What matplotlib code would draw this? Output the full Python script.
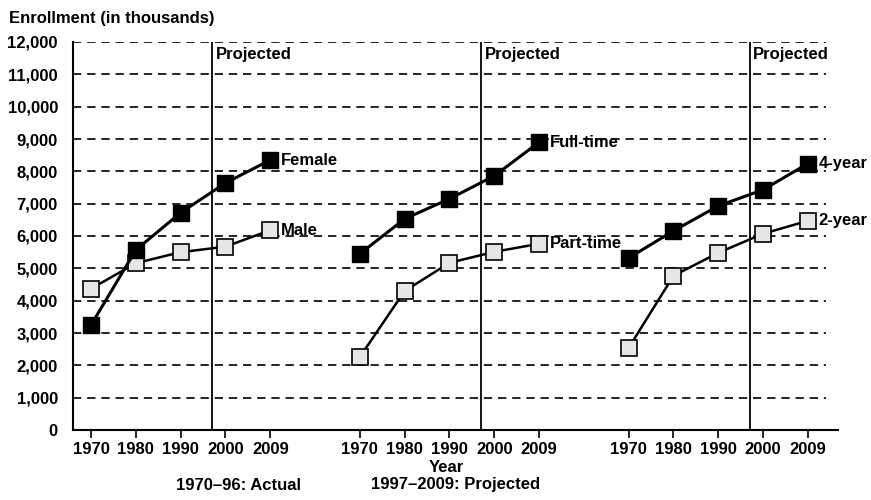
import matplotlib
matplotlib.use("Agg")
import matplotlib.pyplot as plt
import numpy as np

# enrollment data (thousands)
years = ["1970", "1980", "1990", "2000", "2009"]
female = [3250, 5570, 6720, 7640, 8350]
male = [4370, 5160, 5500, 5670, 6180]
full_time = [5450, 6530, 7150, 7860, 8900]
part_time = [2260, 4300, 5170, 5510, 5760]
four_year = [5320, 6160, 6930, 7430, 8240]
two_year = [2540, 4770, 5480, 6070, 6470]

groups = [(female, male, "Female", "Male"),
          (full_time, part_time, "Full-time", "Part-time"),
          (four_year, two_year, "4-year", "2-year")]

plt.rcParams['font.family'] = ['Liberation Sans', 'DejaVu Sans']
fs = 12
fig = plt.figure(figsize=(8.71, 5.0), dpi=100)
ax = fig.add_axes([0.084, 0.14, 0.878, 0.776])

xpos_all = []
for g, (top, bot, top_lab, bot_lab) in enumerate(groups):
    x = np.arange(5) + g * 6
    xpos_all.extend(x)
    ax.plot(x, bot, color='black', lw=1.8, marker='s', ms=12,
            mfc='#e6e6e6', mec='black', mew=1.2, zorder=3)
    ax.plot(x, top, color='black', lw=2.2, marker='s', ms=12,
            mfc='black', mec='black', zorder=4)
    ax.text(x[-1] + 0.24, top[-1], top_lab, fontsize=fs, fontweight='bold',
            va='center', ha='left')
    ax.text(x[-1] + 0.24, bot[-1], bot_lab, fontsize=fs, fontweight='bold',
            va='center', ha='left')
    # projection boundary (1997)
    xv = g * 6 + 2.7
    ax.plot([xv, xv], [0, 12000], color='black', lw=1.3, zorder=2)
    ax.text(xv + 0.08, 11620, "Projected", fontsize=fs, fontweight='bold',
            va='center', ha='left')

for yv in range(1000, 13000, 1000):
    ax.axhline(yv, xmax=0.985, color='black', lw=1.2, ls=(0, (5, 3.5)), zorder=1)

ax.set_xlim(-0.4, 16.67)
ax.set_ylim(0, 12000)
ax.set_yticks(range(0, 13000, 1000))
ax.set_yticklabels([f"{v:,}" for v in range(0, 13000, 1000)],
                   fontsize=fs, fontweight='bold')
ax.set_xticks(xpos_all)
ax.set_xticklabels(years * 3, fontsize=fs, fontweight='bold')
ax.tick_params(axis='y', length=0, pad=11)
ax.tick_params(axis='x', length=6, width=1.2, direction='out', pad=3)
ax.spines['top'].set_visible(False)
ax.spines['right'].set_visible(False)
ax.spines['left'].set_linewidth(1.5)
ax.spines['bottom'].set_linewidth(1.5)

fig.text(0.01, 0.962, "Enrollment (in thousands)", fontsize=fs,
         fontweight='bold', ha='left', va='center')
fig.text(0.513, 0.066, "Year", fontsize=fs, fontweight='bold',
         ha='center', va='center')
fig.text(0.274, 0.03, "1970\u201396: Actual", fontsize=fs,
         fontweight='bold', ha='center', va='center')
fig.text(0.523, 0.03, "1997\u20132009: Projected", fontsize=fs,
         fontweight='bold', ha='center', va='center')

fig.savefig("out.png", dpi=100)
